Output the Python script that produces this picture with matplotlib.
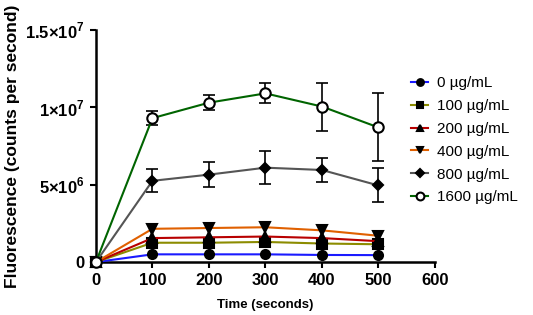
import matplotlib
matplotlib.use('Agg')
import matplotlib.pyplot as plt

plt.rcParams['font.family'] = ['Liberation Sans', 'DejaVu Sans']
plt.rcParams['mathtext.fontset'] = 'custom'
plt.rcParams['mathtext.rm'] = 'Liberation Sans:bold'
plt.rcParams['mathtext.bf'] = 'Liberation Sans:bold'

# Data
time = [0, 100, 200, 300, 400, 500]
labels = ['0 µg/mL', '100 µg/mL', '200 µg/mL', '400 µg/mL', '800 µg/mL', '1600 µg/mL']
f0 = [0, 0.50e6, 0.50e6, 0.50e6, 0.46e6, 0.45e6]
f100 = [0, 1.25e6, 1.25e6, 1.30e6, 1.20e6, 1.15e6]
f200 = [0, 1.55e6, 1.60e6, 1.65e6, 1.55e6, 1.35e6]
f400 = [0, 2.15e6, 2.20e6, 2.25e6, 2.05e6, 1.70e6]
f800 = [0, 5.25e6, 5.65e6, 6.10e6, 5.95e6, 4.95e6]
f1600 = [0, 9.30e6, 10.30e6, 10.90e6, 10.05e6, 8.70e6]
err800 = [0, 0.75e6, 0.80e6, 1.05e6, 0.80e6, 1.10e6]
err1600 = [0, 0.45e6, 0.50e6, 0.65e6, 1.55e6, 2.20e6]

series = [f0, f100, f200, f400, f800, f1600]
errors = [None, None, None, None, err800, err1600]
colors = ['#1a1aff', '#8c8c00', '#b80000', '#e06000', '#555555', '#006400']
markers = ['o', 's', '^', 'v', 'D', 'o']
msizes = [6.5, 6.5, 6.5, 6.5, 5, 7.5]

fig = plt.figure(figsize=(5.33, 3.15), dpi=100)
ax = fig.add_axes([0.18, 0.168, 0.636, 0.737])

for vals, err, c, m, ms, lab in zip(series, errors, colors, markers, msizes, labels):
    face = 'white' if lab.startswith('1600') else 'black'
    ax.plot(time, vals, color=c, lw=1.5, marker=m, ms=ms, mfc=face, mec='black',
            mew=1.5, label=lab, clip_on=False, zorder=3)
    if err is not None:
        ax.errorbar(time[1:], vals[1:], yerr=err[1:], fmt='none', ecolor='black',
                    elinewidth=1.2, capsize=4, capthick=1.2, zorder=2)

ax.set_xlim(0, 600)
ax.set_ylim(0, 1.5e7)
ax.set_xticks([0, 100, 200, 300, 400, 500, 600])
ax.set_yticks([0, 5e6, 1e7, 1.5e7])
ax.set_yticklabels(['0', r'$5{\times}10^{6}$', r'$1{\times}10^{7}$', r'$1.5{\times}10^{7}$'])
for t in ax.get_xticklabels() + ax.get_yticklabels():
    t.set_fontweight('bold')
ax.tick_params(labelsize=12, width=1.5, length=4.5)

for s in ['top', 'right']:
    ax.spines[s].set_visible(False)
for s in ['left', 'bottom']:
    ax.spines[s].set_linewidth(1.8)

ax.set_xlabel('Time (seconds)', fontsize=9.5, fontweight='bold', labelpad=8)
ax.set_ylabel('Fluorescence (counts per second)', fontsize=12.5, fontweight='bold', labelpad=4)

ax.legend(loc='upper left', bbox_to_anchor=(0.89, 0.86), frameon=False, fontsize=11,
          handlelength=1.1, labelspacing=0.58, handletextpad=0.6, markerscale=0.75)

fig.savefig('out.png', dpi=100)
